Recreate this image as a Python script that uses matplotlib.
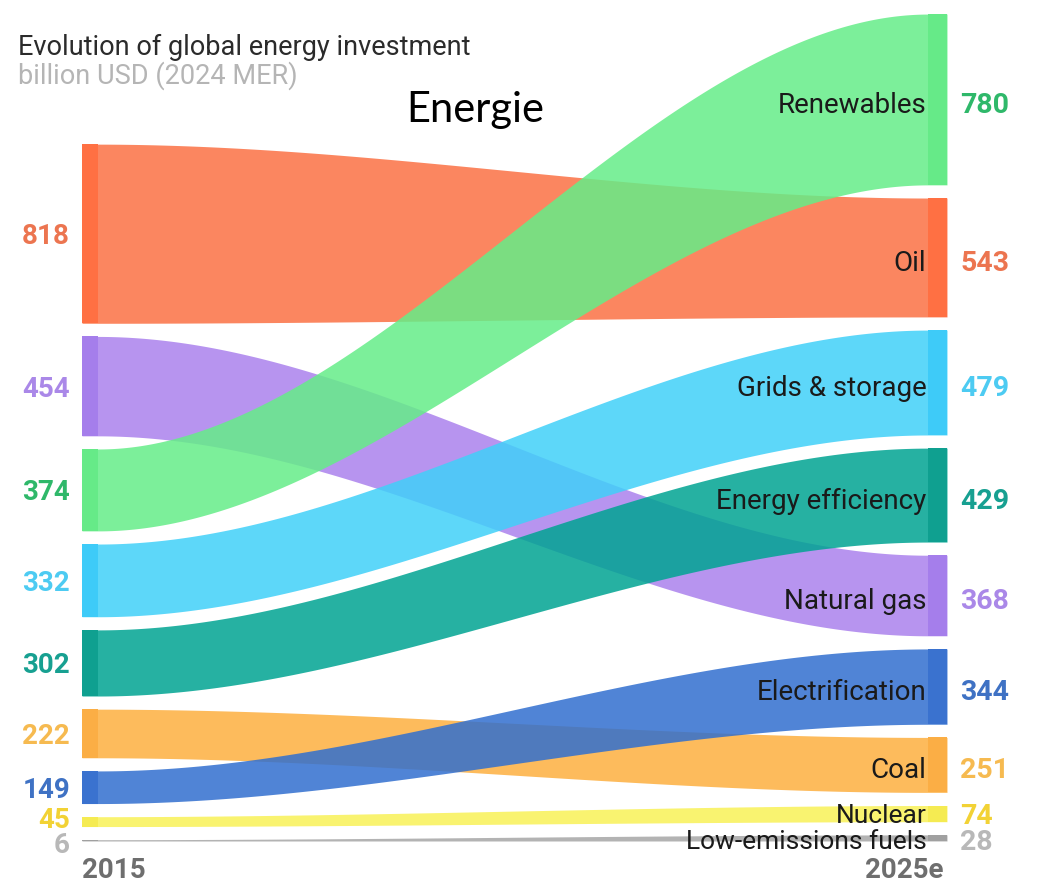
import matplotlib
matplotlib.use("Agg")
import matplotlib.pyplot as plt
import matplotlib.colors as mcolors
import numpy as np

# ---- data ----
categories = ["Low-emissions fuels", "Nuclear", "Electrification", "Coal",
              "Energy efficiency", "Grids & storage", "Renewables",
              "Natural gas", "Oil"]
values_2015 = [6, 45, 149, 222, 302, 332, 374, 454, 818]
values_2025 = [28, 74, 344, 251, 429, 479, 780, 368, 543]
# stacking order (bottom -> top) on each side
order_2015 = ["Low-emissions fuels", "Nuclear", "Electrification", "Coal",
              "Energy efficiency", "Grids & storage", "Renewables",
              "Natural gas", "Oil"]
order_2025 = ["Low-emissions fuels", "Nuclear", "Coal", "Electrification",
              "Natural gas", "Energy efficiency", "Grids & storage", "Oil",
              "Renewables"]
year_labels = ["2015", "2025e"]

fill_colors = {
    "Oil": "#FC8660", "Natural gas": "#B894F0", "Renewables": "#7CF09A",
    "Grids & storage": "#5DD7FA", "Energy efficiency": "#20B2A2",
    "Coal": "#FDBB5C", "Electrification": "#5085D6", "Nuclear": "#F9F370",
    "Low-emissions fuels": "#B3B3B3",
}
strip_colors = {
    "Oil": "#FF7043", "Natural gas": "#A57EEB", "Renewables": "#66EA88",
    "Grids & storage": "#3ECBF8", "Energy efficiency": "#0FA090",
    "Coal": "#FBAE45", "Electrification": "#3A72CF", "Nuclear": "#F5EB52",
    "Low-emissions fuels": "#A0A0A0",
}
value_colors = {
    "Oil": "#EC7550", "Natural gas": "#AA88E8", "Renewables": "#2FB86A",
    "Grids & storage": "#4DCBF2", "Energy efficiency": "#17A091",
    "Coal": "#F6BA50", "Electrification": "#3F72C4", "Nuclear": "#F2D235",
    "Low-emissions fuels": "#B8B8B8",
}

GAP = 60
ALPHA = 0.85

def stack(order, vals):
    d = dict(zip(categories, vals))
    pos, y = {}, 0
    for c in order:
        pos[c] = (y, y + d[c])
        y += d[c] + GAP
    return pos

p15 = stack(order_2015, values_2015)
p25 = stack(order_2025, values_2025)

def deepen(hexc, a):
    rgb = np.array(mcolors.to_rgb(hexc))
    c = (rgb - (1 - a)) / a
    return tuple(np.clip(c, 0, 1))

W, H = 1037, 884
fig = plt.figure(figsize=(W / 100, H / 100), dpi=100)
ax = fig.add_axes([0, 0, 1, 1])
x0_px, x1_px = 98, 928
sx = x1_px - x0_px
base_px, scale = 841, 0.219
ax.set_xlim(-x0_px / sx, (W - x0_px) / sx)
ax.set_ylim((base_px - H) / scale, base_px / scale)
ax.axis("off")

strip_l = 16 / sx
strip_r = 19 / sx

t = np.linspace(0, 1, 300)
s = 3 * t ** 2 - 2 * t ** 3
xs = np.concatenate([[-strip_l], t, [1 + strip_r]])

draw_order = ["Oil", "Natural gas", "Renewables", "Grids & storage",
              "Energy efficiency", "Coal", "Electrification", "Nuclear",
              "Low-emissions fuels"]
for c in draw_order:
    b0, t0 = p15[c]
    b1, t1 = p25[c]
    lo = b0 + (b1 - b0) * s
    hi = t0 + (t1 - t0) * s
    lo = np.concatenate([[b0], lo, [b1]])
    hi = np.concatenate([[t0], hi, [t1]])
    ax.fill_between(xs, lo, hi, color=deepen(fill_colors[c], ALPHA),
                    alpha=ALPHA, lw=0, zorder=2)

for c in draw_order:
    b0, t0 = p15[c]
    b1, t1 = p25[c]
    ax.fill_between([-strip_l, 0], [b0, b0], [t0, t0], color=strip_colors[c],
                    lw=0, zorder=3)
    ax.fill_between([1, 1 + strip_r], [b1, b1], [t1, t1], color=strip_colors[c],
                    lw=0, zorder=3)

FONT = ["Roboto", "DejaVu Sans"]
v15 = dict(zip(categories, values_2015))
v25 = dict(zip(categories, values_2025))
lx = (70 - x0_px) / sx
rx = (960 - x0_px) / sx
# small vertical nudges (in px, positive = up) for labels
nudge_left = {"Nuclear": 4, "Low-emissions fuels": -2}
nudge_right = {"Nuclear": 0, "Low-emissions fuels": -2}
small = {"Nuclear", "Low-emissions fuels"}
for c in categories:
    b0, t0 = p15[c]
    b1, t1 = p25[c]
    yl = (b0 + t0) / 2 + nudge_left.get(c, 0) / scale
    yr = (b1 + t1) / 2 + (nudge_right.get(c, -3)) / scale
    ax.text(lx, yl, f"{v15[c]}", ha="right", va="center_baseline",
            fontsize=20, fontweight="bold", color=value_colors[c],
            family=FONT, zorder=5)
    ax.text(rx, yr, f"{v25[c]}", ha="left",
            va="center_baseline", fontsize=20.5, fontweight="bold",
            color=value_colors[c], family=FONT, zorder=5)
    ax.text(1 - 0.002, yr, c, ha="right", va="center_baseline",
            fontsize=19 if c in small else 20, color="#1a1a1a",
            family=FONT, zorder=5)

ybot = (base_px - 870) / scale
ax.text((82 - x0_px) / sx, ybot, year_labels[0], ha="left", va="center",
        fontsize=20, fontweight="bold", color="#6e6e6e", family=FONT)
ax.text((944 - x0_px) / sx, ybot, year_labels[1], ha="right", va="center",
        fontsize=20, fontweight="bold", color="#6e6e6e", family=FONT)

fig.text(18 / W, 1 - 47 / H, "Evolution of global energy investment",
         ha="left", va="center", fontsize=19.5, color="#2b2b2b", family=FONT)
fig.text(18 / W, 1 - 76 / H, "billion USD (2024 MER)",
         ha="left", va="center", fontsize=19.5, color="#b5b5b5", family=FONT)
fig.text(475 / W, 1 - 110 / H, "Energie", ha="center", va="center",
         fontsize=30, color="black", family=["Lato", "DejaVu Sans"], zorder=6)

fig.savefig("out.png", dpi=100, facecolor="white")
